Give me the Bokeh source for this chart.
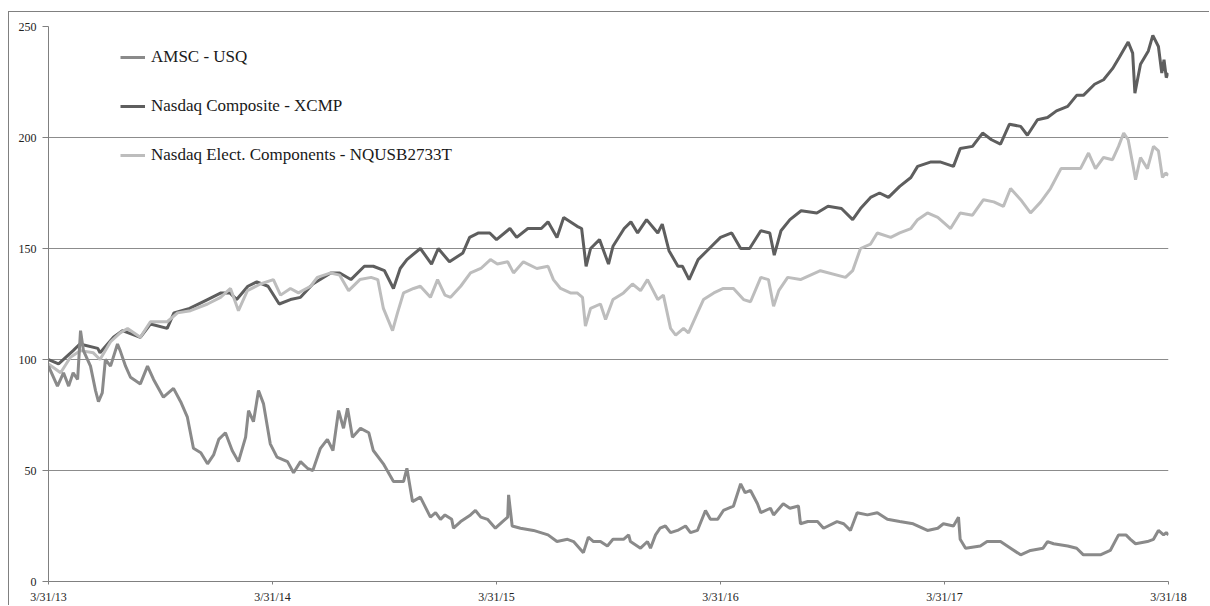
from bokeh.plotting import figure
from bokeh.models import FixedTicker, Legend, LegendItem, Range1d
from bokeh.embed import file_html
from bokeh.resources import INLINE

# time axis: years elapsed since 3/31/13
amsc_t = [0.00, 0.04, 0.067, 0.09, 0.11, 0.13, 0.143, 0.156, 0.1875, 0.21,
          0.223, 0.24, 0.254, 0.277, 0.308, 0.32, 0.344, 0.366, 0.41, 0.442,
          0.469, 0.513, 0.558, 0.59, 0.62, 0.647, 0.68, 0.71, 0.737, 0.76,
          0.79, 0.82, 0.848, 0.88, 0.893, 0.915, 0.9375, 0.96, 0.99, 1.02,
          1.067, 1.094, 1.125, 1.156, 1.18, 1.214, 1.245, 1.27, 1.295, 1.317,
          1.335, 1.357, 1.393, 1.43, 1.45, 1.495, 1.54, 1.585, 1.60, 1.625,
          1.66, 1.705, 1.728, 1.75, 1.77, 1.80, 1.808, 1.84, 1.884, 1.906,
          1.93, 1.96, 1.995, 2.027, 2.05, 2.054, 2.07, 2.107, 2.165, 2.23,
          2.27, 2.317, 2.344, 2.388, 2.41, 2.433, 2.464, 2.495, 2.52, 2.567,
          2.59, 2.598, 2.643, 2.674, 2.6875, 2.71, 2.73, 2.754, 2.777, 2.808,
          2.844, 2.866, 2.897, 2.933, 2.955, 2.987, 3.013, 3.058, 3.09, 3.11,
          3.134, 3.165, 3.18, 3.223, 3.237, 3.28, 3.31, 3.348, 3.357, 3.39,
          3.433, 3.46, 3.52, 3.55, 3.58, 3.61, 3.656, 3.70, 3.745, 3.80,
          3.86, 3.924, 3.97, 3.995, 4.04, 4.0625, 4.07, 4.094, 4.16, 4.19,
          4.25, 4.295, 4.34, 4.384, 4.44, 4.46, 4.487, 4.55, 4.59, 4.62,
          4.696, 4.74, 4.777, 4.81, 4.83, 4.853, 4.906, 4.933, 4.955, 4.978,
          4.99, 5.00]
amsc_v = [97, 88, 94, 88, 94, 91, 113, 104, 97, 86,
          81, 85, 100, 97, 107, 104, 97, 92, 89, 97,
          91, 83, 87, 81, 74, 60, 58, 53, 57, 64,
          67, 59, 54, 65, 77, 72, 86, 80, 62, 56,
          54, 49, 54, 51, 50, 60, 64, 59, 77, 69,
          78, 65, 69, 67, 59, 53, 45, 45, 51, 36,
          38, 29, 31, 28, 30, 28, 24, 27, 30, 32,
          29, 28, 24, 27, 29, 39, 25, 24, 23, 21,
          18, 19, 18, 13, 20, 18, 18, 16, 19, 19,
          21, 18, 15, 18, 15, 21, 24, 25, 22, 23,
          25, 22, 23, 32, 28, 28, 32, 34, 44, 40,
          41, 35, 31, 33, 30, 35, 33, 34, 26, 27,
          27, 24, 27, 26, 23, 31, 30, 31, 28, 27,
          26, 23, 24, 26, 25, 29, 19, 15, 16, 18,
          18, 15, 12, 14, 15, 18, 17, 16, 15, 12,
          12, 14, 21, 21, 19, 17, 18, 19, 23, 21,
          22, 21]

xcmp_t = [0.00, 0.045, 0.11, 0.14, 0.22, 0.23, 0.29, 0.33, 0.41, 0.455,
          0.53, 0.56, 0.63, 0.71, 0.77, 0.81, 0.84, 0.89, 0.93, 0.98,
          1.03, 1.08, 1.125, 1.18, 1.26, 1.30, 1.35, 1.41, 1.45, 1.50,
          1.54, 1.57, 1.60, 1.66, 1.71, 1.74, 1.79, 1.85, 1.88, 1.92,
          1.97, 2.00, 2.06, 2.09, 2.14, 2.20, 2.23, 2.27, 2.30, 2.36,
          2.38, 2.40, 2.42, 2.46, 2.50, 2.52, 2.57, 2.60, 2.63, 2.67,
          2.72, 2.74, 2.77, 2.81, 2.83, 2.86, 2.90, 2.94, 3.00, 3.05,
          3.09, 3.13, 3.18, 3.22, 3.24, 3.27, 3.31, 3.36, 3.43, 3.48,
          3.54, 3.59, 3.625, 3.67, 3.71, 3.75, 3.80, 3.85, 3.88, 3.94,
          3.98, 4.04, 4.07, 4.125, 4.17, 4.21, 4.25, 4.29, 4.34, 4.37,
          4.415, 4.46, 4.50, 4.55, 4.59, 4.62, 4.67, 4.71, 4.75, 4.78,
          4.82, 4.84, 4.85, 4.875, 4.91, 4.93, 4.955, 4.97, 4.98, 4.99,
          5.00]
xcmp_v = [100, 98, 104, 107, 105, 103, 110, 113, 110, 116,
          114, 121, 123, 127, 130, 130, 127, 133, 135, 133,
          125, 127, 128, 134, 139, 139, 136, 142, 142, 140,
          132, 141, 145, 150, 143, 150, 144, 148, 155, 157,
          157, 154, 159, 155, 159, 159, 162, 155, 164, 160,
          159, 142, 150, 154, 143, 151, 159, 162, 157, 163,
          157, 161, 149, 142, 142, 136, 145, 149, 155, 157,
          150, 150, 158, 157, 147, 158, 163, 167, 166, 169,
          168, 163, 168, 173, 175, 173, 178, 182, 187, 189,
          189, 187, 195, 196, 202, 199, 197, 206, 205, 201,
          208, 209, 212, 214, 219, 219, 224, 226, 231, 236,
          243, 238, 220, 233, 239, 246, 241, 229, 235, 227,
          229]

elec_t = [0.00, 0.054, 0.098, 0.143, 0.20, 0.23, 0.277, 0.32, 0.353, 0.41,
          0.455, 0.53, 0.576, 0.634, 0.71, 0.768, 0.8125, 0.848, 0.888, 0.946,
          1.004, 1.036, 1.08, 1.116, 1.17, 1.20, 1.26, 1.30, 1.34, 1.39,
          1.44, 1.47, 1.495, 1.536, 1.558, 1.585, 1.63, 1.66, 1.705, 1.737,
          1.77, 1.795, 1.84, 1.884, 1.93, 1.973, 2.004, 2.05, 2.076, 2.12,
          2.18, 2.23, 2.254, 2.286, 2.33, 2.36, 2.384, 2.397, 2.42, 2.464,
          2.487, 2.52, 2.567, 2.607, 2.643, 2.674, 2.72, 2.745, 2.777, 2.80,
          2.835, 2.857, 2.897, 2.924, 2.97, 3.013, 3.058, 3.103, 3.134, 3.18,
          3.214, 3.237, 3.26, 3.30, 3.357, 3.446, 3.558, 3.59, 3.625, 3.67,
          3.70, 3.76, 3.80, 3.85, 3.88, 3.924, 3.97, 4.027, 4.07, 4.125,
          4.174, 4.22, 4.263, 4.295, 4.34, 4.384, 4.43, 4.473, 4.52, 4.5625,
          4.607, 4.643, 4.674, 4.71, 4.75, 4.777, 4.80, 4.82, 4.844, 4.853,
          4.875, 4.906, 4.933, 4.955, 4.973, 4.987, 5.00]
elec_v = [98, 94, 101, 104, 103, 100, 108, 112, 114, 110,
          117, 117, 121, 122, 125, 128, 132, 122, 131, 134,
          136, 129, 132, 130, 133, 137, 139, 138, 131, 136,
          137, 136, 123, 113, 121, 130, 132, 133, 128, 136,
          129, 128, 133, 139, 141, 145, 143, 144, 139, 144,
          141, 142, 136, 132, 130, 130, 128, 115, 123, 125,
          118, 127, 130, 134, 131, 136, 127, 129, 114, 111,
          114, 112, 121, 127, 130, 132, 132, 127, 126, 137,
          136, 124, 131, 137, 136, 140, 137, 140, 150, 152,
          157, 155, 157, 159, 163, 166, 164, 159, 166, 165,
          172, 171, 169, 177, 172, 166, 171, 177, 186, 186,
          186, 193, 186, 191, 190, 196, 202, 199, 186, 181,
          191, 186, 196, 194, 182, 184, 183]

series_names = ["AMSC - USQ", "Nasdaq Composite - XCMP",
                "Nasdaq Elect. Components - NQUSB2733T"]
x_tick_years = [0, 1, 2, 3, 4, 5]
x_tick_labels = ["3/31/13", "3/31/14", "3/31/15", "3/31/16", "3/31/17", "3/31/18"]
y_ticks = [0, 50, 100, 150, 200, 250]

FONT = "Liberation Serif"
C_AMSC, C_XCMP, C_ELEC = "#8a8a8a", "#5e5e5e", "#bdbdbd"

p = figure(width=1201, height=594, output_backend="svg", toolbar_location=None,
           x_range=Range1d(x_tick_years[0], x_tick_years[-1]),
           y_range=Range1d(y_ticks[0], y_ticks[-1]),
           min_border_left=39, min_border_right=42, min_border_top=14,
           min_border_bottom=25)
p.styles = {"border-top": "1px solid #808080", "border-left": "1px solid #808080",
            "margin-top": "11px", "margin-left": "8px"}
p.outline_line_color = None
p.background_fill_color = "white"
p.border_fill_color = None

r_x = p.line(xcmp_t, xcmp_v, line_color=C_XCMP, line_width=3)
r_e = p.line(elec_t, elec_v, line_color=C_ELEC, line_width=3)
r_a = p.line(amsc_t, amsc_v, line_color=C_AMSC, line_width=3)

p.xgrid.visible = False
p.ygrid.grid_line_color = "#8c8c8c"
p.ygrid.grid_line_width = 1

p.xaxis.ticker = FixedTicker(ticks=x_tick_years)
p.xaxis.major_label_overrides = {t: l for t, l in zip(x_tick_years, x_tick_labels)}
p.yaxis.ticker = FixedTicker(ticks=y_ticks)
for ax in (p.xaxis[0], p.yaxis[0]):
    ax.axis_line_color = "#808080"
    ax.major_tick_line_color = "#808080"
    ax.minor_tick_line_color = None
    ax.major_tick_in = 0
    ax.major_label_text_font = FONT
    ax.major_label_text_font_size = "12px"
    ax.major_label_text_color = "#222222"
p.xaxis.major_tick_out = 3
p.xaxis.major_label_standoff = 5
p.yaxis.major_tick_out = 6
p.yaxis.major_label_standoff = 6

legend = Legend(items=[LegendItem(label=series_names[0], renderers=[r_a]),
                       LegendItem(label=series_names[1], renderers=[r_x]),
                       LegendItem(label=series_names[2], renderers=[r_e])],
                location=(72, 416))
legend.label_text_font = FONT
legend.label_text_font_size = "17px"
legend.label_text_color = "#1a1a1a"
legend.glyph_width = 25
legend.glyph_height = 20
legend.label_height = 20
legend.label_standoff = 6
legend.spacing = 29
legend.padding = 0
legend.margin = 0
legend.border_line_color = None
legend.background_fill_alpha = 0
p.add_layout(legend)

open("out.html", "w").write(file_html(p, INLINE))
